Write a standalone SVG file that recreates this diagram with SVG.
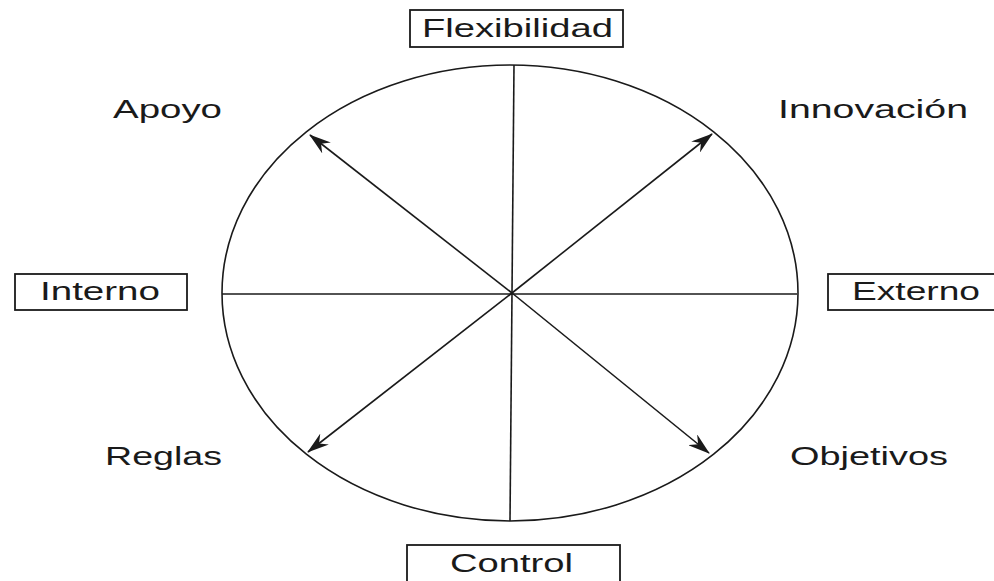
<svg xmlns="http://www.w3.org/2000/svg" width="994" height="581" viewBox="0 0 994 581">
<style>
.ln{stroke:#1a1a1a;stroke-width:1.6;fill:none}
.bx{stroke:#1a1a1a;stroke-width:1.8;fill:#fff}
.t{font-family:"Liberation Sans",Arial,sans-serif;font-size:26px;fill:#1a1a1a}
</style>
<defs>
<marker id="ah" viewBox="0 0 22 14" refX="21" refY="7" markerWidth="22" markerHeight="14" markerUnits="userSpaceOnUse" orient="auto">
<path d="M0,0 L22,7 L0,14 L7,7 z" fill="#1a1a1a"/>
</marker>
</defs>
<rect width="994" height="581" fill="#fff"/>
<g id="circle">
<ellipse cx="510" cy="293" rx="288" ry="228" class="ln"/>
</g>
<g id="connectors">
<line x1="514" y1="65" x2="510" y2="521" class="ln"/>
<line x1="222" y1="294" x2="797" y2="294" class="ln"/>
<line x1="512" y1="293" x2="310" y2="135" class="ln" marker-end="url(#ah)"/>
<line x1="512" y1="293" x2="712" y2="134" class="ln" marker-end="url(#ah)"/>
<line x1="512" y1="293" x2="308" y2="452" class="ln" marker-end="url(#ah)"/>
<line x1="512" y1="293" x2="709" y2="453" class="ln" marker-end="url(#ah)"/>
</g>
<g id="flexibilidad">
<rect x="410" y="10" width="213" height="37" class="bx"/>
<text x="422" y="37" class="t" textLength="191" lengthAdjust="spacingAndGlyphs">Flexibilidad</text>
</g>
<g id="interno">
<rect x="15" y="274" width="172" height="36" class="bx"/>
<text x="40" y="300" class="t" textLength="120" lengthAdjust="spacingAndGlyphs">Interno</text>
</g>
<g id="externo">
<rect x="828" y="274" width="180" height="36" class="bx"/>
<text x="852" y="300" class="t" textLength="128" lengthAdjust="spacingAndGlyphs">Externo</text>
</g>
<g id="control">
<rect x="407" y="545" width="213" height="50" class="bx"/>
<text x="450" y="572" class="t" textLength="123" lengthAdjust="spacingAndGlyphs">Control</text>
</g>
<g id="apoyo">
<text x="113" y="118" class="t" textLength="109" lengthAdjust="spacingAndGlyphs">Apoyo</text>
</g>
<g id="innovacion">
<text x="778" y="118" class="t" textLength="190" lengthAdjust="spacingAndGlyphs">Innovación</text>
</g>
<g id="reglas">
<text x="105" y="465" class="t" textLength="117" lengthAdjust="spacingAndGlyphs">Reglas</text>
</g>
<g id="objetivos">
<text x="790" y="465" class="t" textLength="158" lengthAdjust="spacingAndGlyphs">Objetivos</text>
</g>
</svg>
